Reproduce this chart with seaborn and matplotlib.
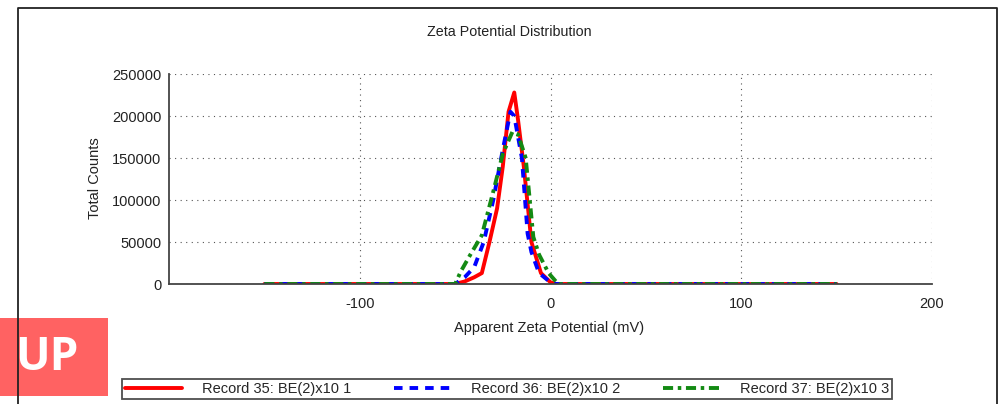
import matplotlib
matplotlib.use("Agg")
import matplotlib.pyplot as plt
from matplotlib.patches import Rectangle
from matplotlib.lines import Line2D
from matplotlib.ticker import MultipleLocator
import seaborn as sns
import pandas as pd

# Zeta potential (mV) and total counts for each record
zeta_35 = [-150, -50, -45, -40, -36, -32, -28, -25, -22, -19, -17, -14, -10, -5, 0, 3, 150]
counts_35 = [0, 0, 3000, 8000, 13000, 50000, 90000, 140000, 205000, 228000, 195000, 140000, 50000, 13000, 2000, 0, 0]

zeta_36 = [-150, -50, -45, -40, -35, -30, -25, -21, -19, -15, -12, -10, -6, 0, 3, 150]
counts_36 = [0, 0, 8000, 20000, 50000, 100000, 160000, 205000, 200000, 150000, 60000, 38000, 13000, 2000, 0, 0]

zeta_37 = [-150, -50, -47, -42, -36, -30, -25, -20, -17, -13, -9, -6, -1, 4, 150]
counts_37 = [0, 0, 15000, 35000, 58000, 110000, 155000, 181000, 178000, 150000, 56000, 35000, 13000, 0, 0]

labels = ["Record 35: BE(2)x10 1", "Record 36: BE(2)x10 2", "Record 37: BE(2)x10 3"]
colors = ["#ff0000", "#0000ff", "#138a13"]
styles = ["-", (0, (2.2, 1.8)), (0, (2.6, 1.2, 0.9, 1.2))]

sns.set_style("white")
plt.rcParams["font.family"] = ["Liberation Sans", "DejaVu Sans"]
plt.rcParams["axes.unicode_minus"] = False

fig = plt.figure(figsize=(9.99, 4.04), dpi=100)
ax = fig.add_axes([169 / 999, 1 - 284 / 404, (932 - 169) / 999, (284 - 74) / 404])

series = [(zeta_35, counts_35), (zeta_36, counts_36), (zeta_37, counts_37)]
for (x, y), lab, c, ls in zip(series, labels, colors, styles):
    df = pd.DataFrame({"zeta": x, "counts": y})
    sns.lineplot(data=df, x="zeta", y="counts", color=c, linestyle=ls, lw=2.8,
                 sort=False, ax=ax, label=lab, legend=False)

ax.set_xlim(-200, 200)
ax.set_ylim(0, 250000)
ax.set_xticks([-100, 0, 100, 200])
ax.set_yticks([0, 50000, 100000, 150000, 200000, 250000])
ax.xaxis.set_minor_locator(MultipleLocator(50))
ax.yaxis.set_minor_locator(MultipleLocator(25000))
ax.grid(True, which="major", color="#555555", linestyle=(0, (1, 4)), linewidth=0.8)

for s in ["top", "right"]:
    ax.spines[s].set_visible(False)
for s in ["left", "bottom"]:
    ax.spines[s].set_color("#444444")
    ax.spines[s].set_linewidth(1.3)
ax.tick_params(which="both", direction="inout", color="#444444", labelsize=10.5, labelcolor="#222222")
ax.tick_params(which="major", length=7, width=1)
ax.tick_params(which="minor", length=6, width=1)
ax.tick_params(axis="x", pad=6)
ax.tick_params(axis="y", pad=2)
ax.set_xlabel("")
ax.set_ylabel("")

fig.text(509 / 999, 1 - 32 / 404, "Zeta Potential Distribution", ha="center", va="center", fontsize=10.3, color="#222222")
fig.text(95 / 999, 1 - 178 / 404, "Total Counts", ha="center", va="center", rotation=90, fontsize=10.5, color="#222222")
fig.text(549 / 999, 1 - 328 / 404, "Apparent Zeta Potential (mV)", ha="center", va="center", fontsize=10.5, color="#222222")

handles = [Line2D([], [], color=c, linestyle=ls, lw=2.8) for c, ls in zip(colors, styles)]
leg = fig.legend(handles, labels, ncol=3, mode="expand", loc="lower left",
                 bbox_to_anchor=(122 / 999, 5 / 404, 770 / 999, 24 / 404),
                 fontsize=10.5, frameon=True, fancybox=False, borderaxespad=0,
                 handlelength=3.9, handletextpad=1.4, borderpad=0.2)
leg.get_frame().set_edgecolor("#222222")
leg.get_frame().set_linewidth(1.3)

# outer frame
frame = [Line2D([18 / 999, 18 / 999, 997 / 999, 997 / 999], [0, 1 - 8 / 404, 1 - 8 / 404, 0],
                transform=fig.transFigure, color="#222222", lw=1.3, zorder=10)]
fig.lines.extend(frame)

# "UP" badge
fig.patches.append(Rectangle((0, 1 - 396 / 404), 108 / 999, 78 / 404, transform=fig.transFigure,
                             facecolor="#ff6262", edgecolor="none", zorder=5))
fig.text(47 / 999, 1 - 358 / 404, "UP", ha="center", va="center", fontsize=33,
         fontweight="bold", color="white", family=["Open Sans", "DejaVu Sans"], zorder=6)

fig.savefig("out.png", dpi=100)
